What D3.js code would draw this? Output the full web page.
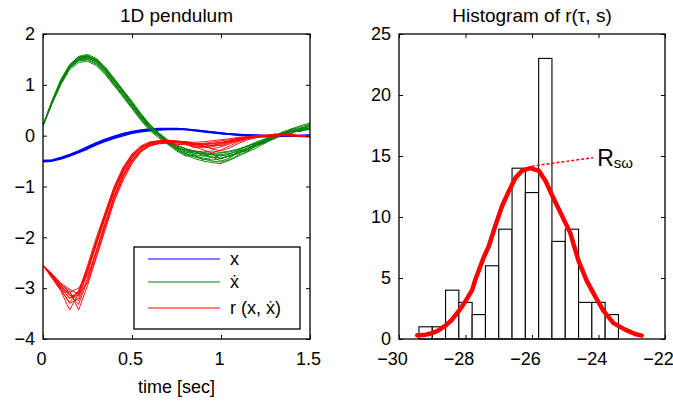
<!DOCTYPE html>
<html>
<head>
<meta charset="utf-8">
<script src="https://cdn.jsdelivr.net/npm/d3@7"></script>
<style>
body { margin: 0; background: #fff; }
text { font-family: "Liberation Sans", Arial, sans-serif; fill: #000; }
</style>
</head>
<body>
<script>
const width = 673,
	  height = 403;

// left panel: trajectories of the 1D pendulum
const times = [0,0.05,0.1,0.15,0.2,0.25,0.3,0.35,0.4,0.45,0.5,0.55,0.6,0.65,0.7,0.75,0.8,0.85,0.9,0.95,1.0,1.05,1.1,1.15,1.2,1.25,1.3,1.35,1.4,1.45,1.5];

const xRuns = [
	[-0.50,-0.49,-0.45,-0.39,-0.32,-0.24,-0.16,-0.09,-0.03,0.02,0.06,0.09,0.11,0.12,0.13,0.13,0.12,0.11,0.09,0.07,0.05,0.03,0.02,0.01,0.00,-0.01,-0.01,-0.01,0.00,0.00,0.00],
	[-0.49,-0.48,-0.43,-0.37,-0.30,-0.22,-0.14,-0.07,-0.01,0.04,0.08,0.11,0.13,0.14,0.14,0.14,0.13,0.11,0.09,0.07,0.05,0.03,0.01,0.00,-0.01,-0.02,-0.02,-0.01,-0.01,0.00,0.01],
	[-0.51,-0.50,-0.46,-0.40,-0.33,-0.26,-0.18,-0.11,-0.05,0.00,0.05,0.08,0.10,0.11,0.12,0.12,0.12,0.10,0.08,0.06,0.04,0.03,0.02,0.01,0.01,0.00,0.00,0.00,0.00,-0.01,-0.01]
];

const xdotRuns = [
	[0.2,0.65,1.05,1.35,1.50,1.53,1.45,1.27,1.05,0.83,0.60,0.37,0.17,0.02,-0.12,-0.22,-0.30,-0.34,-0.37,-0.38,-0.40,-0.36,-0.30,-0.24,-0.18,-0.10,-0.03,0.04,0.08,0.12,0.15],
	[0.2,0.68,1.10,1.40,1.56,1.60,1.52,1.35,1.13,0.90,0.68,0.44,0.22,0.05,-0.10,-0.25,-0.36,-0.42,-0.46,-0.50,-0.52,-0.47,-0.38,-0.30,-0.20,-0.12,-0.02,0.06,0.12,0.18,0.22],
	[0.2,0.62,1.00,1.30,1.44,1.46,1.38,1.20,0.98,0.76,0.53,0.30,0.10,-0.04,-0.16,-0.24,-0.28,-0.30,-0.32,-0.30,-0.33,-0.30,-0.26,-0.20,-0.14,-0.07,0.00,0.06,0.10,0.10,0.12],
	[0.2,0.66,1.07,1.37,1.52,1.55,1.48,1.31,1.10,0.88,0.65,0.40,0.20,0.03,-0.13,-0.27,-0.35,-0.40,-0.44,-0.48,-0.45,-0.40,-0.34,-0.28,-0.20,-0.13,-0.05,0.02,0.08,0.10,0.16],
	[0.2,0.63,1.03,1.33,1.48,1.50,1.42,1.24,1.02,0.80,0.57,0.34,0.14,0.00,-0.14,-0.20,-0.26,-0.32,-0.35,-0.36,-0.37,-0.35,-0.28,-0.20,-0.16,-0.08,-0.02,0.05,0.10,0.15,0.20],
	[0.2,0.67,1.08,1.38,1.53,1.58,1.50,1.33,1.10,0.86,0.62,0.38,0.16,0.00,-0.15,-0.28,-0.38,-0.45,-0.50,-0.53,-0.55,-0.48,-0.40,-0.32,-0.24,-0.14,-0.06,0.02,0.06,0.10,0.13],
	[0.2,0.64,1.04,1.34,1.49,1.52,1.46,1.30,1.08,0.86,0.64,0.42,0.22,0.06,-0.08,-0.18,-0.25,-0.30,-0.33,-0.35,-0.34,-0.32,-0.27,-0.20,-0.12,-0.06,0.00,0.08,0.14,0.20,0.25],
	[0.2,0.65,1.06,1.36,1.51,1.54,1.44,1.26,1.03,0.80,0.58,0.35,0.15,0.00,-0.14,-0.24,-0.32,-0.38,-0.40,-0.42,-0.44,-0.40,-0.33,-0.26,-0.17,-0.10,-0.04,0.03,0.09,0.14,0.18],
	[0.2,0.66,1.06,1.38,1.55,1.57,1.47,1.29,1.07,0.85,0.63,0.41,0.20,0.04,-0.10,-0.20,-0.34,-0.30,-0.40,-0.36,-0.46,-0.38,-0.36,-0.22,-0.20,-0.08,-0.06,0.06,0.04,0.16,0.12],
	[0.2,0.64,1.04,1.33,1.47,1.49,1.40,1.22,1.00,0.78,0.55,0.32,0.12,-0.03,-0.17,-0.30,-0.40,-0.38,-0.48,-0.42,-0.50,-0.44,-0.32,-0.30,-0.16,-0.14,0.02,0.00,0.10,0.08,0.20],
	[0.2,0.67,1.09,1.39,1.54,1.56,1.49,1.32,1.10,0.87,0.64,0.40,0.18,0.02,-0.12,-0.24,-0.28,-0.36,-0.34,-0.44,-0.38,-0.42,-0.30,-0.26,-0.14,-0.12,0.04,0.02,0.14,0.12,0.24]
];

const rRuns = [
	[-2.55,-2.75,-2.95,-3.15,-3.15,-2.65,-2.10,-1.58,-1.08,-0.70,-0.42,-0.25,-0.17,-0.13,-0.12,-0.13,-0.15,-0.17,-0.17,-0.15,-0.13,-0.10,-0.06,-0.03,-0.01,0.00,0.01,0.01,0.00,-0.01,-0.01],
	[-2.55,-2.80,-3.05,-3.43,-3.10,-2.55,-2.00,-1.50,-1.00,-0.62,-0.36,-0.20,-0.12,-0.10,-0.10,-0.12,-0.14,-0.20,-0.24,-0.22,-0.18,-0.12,-0.07,-0.03,0.00,0.01,0.02,0.01,0.00,-0.02,-0.03],
	[-2.55,-2.72,-2.92,-3.05,-3.43,-2.95,-2.40,-1.85,-1.30,-0.88,-0.55,-0.32,-0.20,-0.15,-0.13,-0.12,-0.12,-0.13,-0.12,-0.10,-0.08,-0.06,-0.03,-0.02,0.00,0.01,0.00,0.02,0.01,0.00,0.00],
	[-2.55,-2.78,-3.00,-3.20,-3.05,-2.60,-2.05,-1.52,-1.02,-0.64,-0.38,-0.22,-0.14,-0.10,-0.09,-0.10,-0.12,-0.15,-0.20,-0.26,-0.30,-0.24,-0.15,-0.08,-0.04,-0.02,0.00,0.01,0.02,0.00,-0.01],
	[-2.55,-2.74,-2.96,-3.10,-3.25,-2.80,-2.25,-1.70,-1.20,-0.78,-0.48,-0.30,-0.20,-0.16,-0.15,-0.16,-0.18,-0.20,-0.22,-0.20,-0.16,-0.12,-0.08,-0.05,-0.02,0.00,0.01,0.00,-0.01,-0.02,0.00],
	[-2.55,-2.76,-2.98,-3.20,-3.10,-2.65,-2.12,-1.58,-1.08,-0.68,-0.40,-0.23,-0.15,-0.11,-0.10,-0.11,-0.14,-0.16,-0.15,-0.13,-0.10,-0.08,-0.05,-0.03,-0.01,0.00,0.02,0.02,0.01,0.00,-0.02],
	[-2.55,-2.73,-2.93,-3.08,-3.00,-2.75,-2.30,-1.75,-1.22,-0.80,-0.50,-0.30,-0.20,-0.15,-0.12,-0.13,-0.16,-0.22,-0.28,-0.34,-0.28,-0.20,-0.12,-0.06,-0.03,-0.01,0.00,0.00,0.01,0.00,-0.01],
	[-2.55,-2.77,-3.02,-3.30,-3.20,-2.70,-2.15,-1.62,-1.12,-0.72,-0.44,-0.26,-0.16,-0.12,-0.11,-0.12,-0.13,-0.15,-0.17,-0.16,-0.14,-0.10,-0.06,-0.04,-0.02,0.00,0.00,0.01,0.00,-0.01,-0.01],
	[-2.55,-2.79,-3.04,-3.28,-3.06,-2.62,-2.08,-1.55,-1.05,-0.66,-0.39,-0.23,-0.14,-0.11,-0.10,-0.14,-0.12,-0.18,-0.16,-0.20,-0.14,-0.12,-0.05,-0.04,0.00,-0.02,0.02,0.00,0.02,-0.02,0.00],
	[-2.55,-2.75,-2.97,-3.12,-3.32,-2.85,-2.28,-1.72,-1.18,-0.76,-0.47,-0.28,-0.18,-0.14,-0.14,-0.18,-0.16,-0.24,-0.20,-0.26,-0.22,-0.16,-0.10,-0.04,-0.02,0.00,-0.01,0.01,0.00,0.00,-0.02],
	[-2.55,-2.71,-2.90,-3.02,-3.12,-2.90,-2.36,-1.80,-1.26,-0.84,-0.52,-0.31,-0.19,-0.14,-0.12,-0.14,-0.15,-0.17,-0.21,-0.18,-0.20,-0.14,-0.09,-0.05,-0.03,0.00,0.01,0.01,0.00,0.01,-0.01]
];

const legendLabels = ["x", "ẋ", "r (x, ẋ)"];
const leftXTicks = [0, 0.5, 1, 1.5];
const leftYTicks = [-4, -3, -2, -1, 0, 1, 2];

// right panel: histogram
const binEdges = [-29.4,-29.0,-28.6,-28.2,-27.8,-27.4,-27.0,-26.6,-26.2,-25.8,-25.4,-25.0,-24.6,-24.2,-23.8,-23.4];
const counts = [1,1,4,3,2,6,9,14,12,23,8,9,3,3,2];
const fitX = [-29.45,-29.25,-29.05,-28.85,-28.6,-28.4,-28.2,-28.0,-27.8,-27.7,-27.45,-27.3,-27.1,-26.9,-26.7,-26.5,-26.3,-26.05,-25.8,-25.6,-25.4,-25.15,-24.85,-24.6,-24.35,-24.1,-23.85,-23.55,-23.2,-22.9,-22.7];
const fitY = [0.3,0.32,0.45,0.65,1.1,1.6,2.3,3.1,4.0,4.9,6.7,7.6,9.3,10.9,12.1,13.2,13.8,14.0,13.8,13.0,11.8,10.4,8.7,6.4,4.75,3.5,2.3,1.3,0.77,0.41,0.28];
const rswLine = [[-26.01, 14.17], [-24.16, 14.86]];
const rightXTicks = [-30, -28, -26, -24, -22];
const rightYTicks = [0, 5, 10, 15, 20, 25];

const colors = ["#0000ff", "#008000", "#ff0000"];

var svg = d3.select("body").append("svg")
	.attr("width", width)
	.attr("height", height)

function frame(g, x, y, xt, yt, fmtX, shiftX) {
	var w = x.range()[1] - x.range()[0],
		h = y.range()[0] - y.range()[1];
	var bottom = g.append("g")
		.attr("transform", "translate(0," + h + ")")
		.call(d3.axisBottom(x).tickValues(xt).tickSize(-4).tickPadding(13).tickFormat(fmtX))
	bottom.selectAll(".tick text").attr("dx", shiftX)
	g.append("g")
		.call(d3.axisLeft(y).tickValues(yt).tickSize(-4).tickPadding(8).tickFormat(d3.format("d")))
	g.append("g")
		.call(d3.axisTop(x).tickValues(xt).tickSize(-4).tickFormat(""))
	g.append("g")
		.attr("transform", "translate(" + w + ",0)")
		.call(d3.axisRight(y).tickValues(yt).tickSize(-4).tickFormat(""))
	g.selectAll(".domain").remove()
	g.selectAll(".tick line").attr("stroke", "#000")
	g.selectAll(".tick text").style("font-size", "18px").style("font-family", "Liberation Sans, Arial, sans-serif")
	g.append("rect")
		.attr("width", w)
		.attr("height", h)
		.attr("fill", "none")
		.attr("stroke", "#000")
		.attr("stroke-width", 1.3)
}

// ---- left panel ----
var L = { left: 43, top: 34, right: 310, bottom: 339 };
var xl = d3.scaleLinear().domain([0, 1.5]).range([0, L.right - L.left]);
var yl = d3.scaleLinear().domain([-4, 2]).range([L.bottom - L.top, 0]);

var gl = svg.append("g").attr("transform", "translate(" + L.left + "," + L.top + ")")

gl.append("clipPath").attr("id", "clipL")
	.append("rect").attr("width", L.right - L.left).attr("height", L.bottom - L.top)

var line = d3.line()
	.x((d, i) => xl(times[i]))
	.y(d => yl(d))

var traces = gl.append("g").attr("clip-path", "url(#clipL)")
;[xRuns, xdotRuns, rRuns].forEach((runs, k) => {
	traces.selectAll(".run" + k)
		.data(runs)
		.enter()
		.append("path")
		.attr("d", line)
		.attr("fill", "none")
		.attr("stroke", colors[k])
		.attr("stroke-width", k == 0 ? 1.6 : 0.9)
		.attr("stroke-linejoin", "round")
})

frame(gl, xl, yl, leftXTicks, leftYTicks, d3.format(""), -2)

// legend
var lg = gl.append("g").attr("transform", "translate(" + (134 - L.left) + "," + (247 - L.top) + ")")
lg.append("rect")
	.attr("width", 166)
	.attr("height", 82)
	.attr("fill", "#fff")
	.attr("stroke", "#000")
	.attr("stroke-width", 1.3)
legendLabels.forEach((lab, i) => {
	var yy = [12, 35, 61][i];
	lg.append("line")
		.attr("x1", 14).attr("x2", 86)
		.attr("y1", yy).attr("y2", yy)
		.attr("stroke", colors[i])
		.attr("stroke-width", 1)
	lg.append("text")
		.attr("x", 96)
		.attr("y", yy + 6)
		.style("font-size", "18px")
		.text(lab)
})

gl.append("text")
	.attr("x", (L.right - L.left) / 2)
	.attr("y", 22 - L.top)
	.attr("text-anchor", "middle")
	.style("font-size", "19px")
	.text("1D pendulum")

gl.append("text")
	.attr("x", (L.right - L.left) / 2)
	.attr("y", 393 - L.top)
	.attr("text-anchor", "middle")
	.style("font-size", "18px")
	.text("time [sec]")

// ---- right panel ----
var R = { left: 399, top: 34, right: 665, bottom: 339 };
var xr = d3.scaleLinear().domain([-30, -22]).range([0, R.right - R.left]);
var yr = d3.scaleLinear().domain([0, 25]).range([R.bottom - R.top, 0]);

var gr = svg.append("g").attr("transform", "translate(" + R.left + "," + R.top + ")")

gr.selectAll(".bar")
	.data(counts)
	.enter()
	.append("rect")
	.attr("class", "bar")
	.attr("x", (d, i) => xr(binEdges[i]))
	.attr("width", (d, i) => xr(binEdges[i + 1]) - xr(binEdges[i]))
	.attr("y", d => yr(d))
	.attr("height", d => yr(0) - yr(d))
	.attr("fill", "#fff")
	.attr("stroke", "#000")
	.attr("stroke-width", 1.1)

gr.append("path")
	.datum(fitX.map((v, i) => [v, fitY[i]]))
	.attr("d", d3.line().x(d => xr(d[0])).y(d => yr(d[1])))
	.attr("fill", "none")
	.attr("stroke", "#ff0000")
	.attr("stroke-width", 4.5)
	.attr("stroke-linejoin", "round")
	.attr("stroke-linecap", "round")

gr.append("path")
	.datum(rswLine)
	.attr("d", d3.line().x(d => xr(d[0])).y(d => yr(d[1])))
	.attr("stroke", "#ff0000")
	.attr("stroke-width", 1.5)
	.attr("stroke-dasharray", "3,2")

var rlab = gr.append("text")
	.attr("x", xr(rswLine[1][0]) + 4)
	.attr("y", yr(rswLine[1][1]) + 8)
	.style("font-size", "23px")
rlab.append("tspan").text("R")
rlab.append("tspan").attr("dy", 2).style("font-size", "15px").text("sω")

frame(gr, xr, yr, rightXTicks, rightYTicks, d3.format("d"), -7)

gr.append("text")
	.attr("x", (R.right - R.left) / 2)
	.attr("y", 22 - R.top)
	.attr("text-anchor", "middle")
	.style("font-size", "19px")
	.text("Histogram of r(τ, s)")
</script>
</body>
</html>
